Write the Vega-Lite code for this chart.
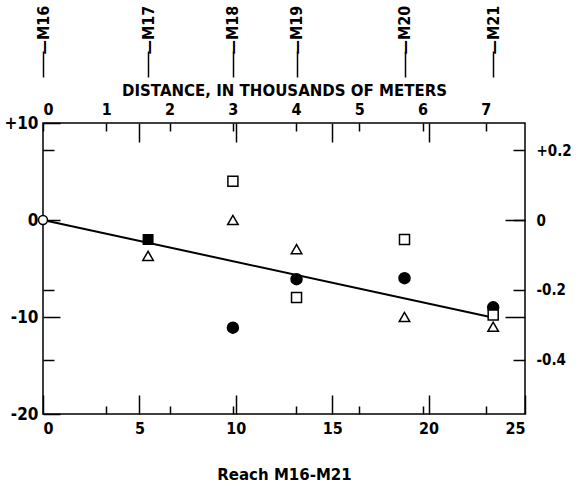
{
  "$schema": "https://vega.github.io/schema/vega-lite/v6.json",
  "width": 482,
  "height": 291,
  "autosize": {"type": "none"},
  "padding": {"left": 43, "top": 123, "right": 56, "bottom": 83},
  "background": "white",
  "config": {
    "view": {"stroke": "black", "strokeWidth": 1.5},
    "axis": {
      "grid": false,
      "domain": false,
      "tickColor": "black",
      "tickWidth": 1.5,
      "labelColor": "black",
      "labelFont": "DejaVu Sans Condensed",
      "labelFontWeight": "bold",
      "labelFontSize": 15,
      "titleColor": "black",
      "titleFont": "DejaVu Sans",
      "titleFontWeight": "bold",
      "titleFontSize": 15
    }
  },
  "datasets": {
    "points": [
      {"kft": 0, "val": 0, "sym": "circle-open"},
      {"kft": 5.45, "val": -2.0, "sym": "square-filled"},
      {"kft": 5.45, "val": -3.7, "sym": "triangle"},
      {"kft": 9.85, "val": 4.0, "sym": "square-open"},
      {"kft": 9.85, "val": 0.0, "sym": "triangle"},
      {"kft": 9.85, "val": -11.1, "sym": "circle-filled"},
      {"kft": 13.15, "val": -3.0, "sym": "triangle"},
      {"kft": 13.15, "val": -6.1, "sym": "circle-filled"},
      {"kft": 13.15, "val": -8.0, "sym": "square-open"},
      {"kft": 18.75, "val": -2.0, "sym": "square-open"},
      {"kft": 18.75, "val": -6.0, "sym": "circle-filled"},
      {"kft": 18.75, "val": -10.0, "sym": "triangle"},
      {"kft": 23.35, "val": -9.0, "sym": "circle-filled"},
      {"kft": 23.35, "val": -9.8, "sym": "square-open"},
      {"kft": 23.35, "val": -11.0, "sym": "triangle"}
    ],
    "fit": [
      {"kft": 0, "val": 0},
      {"kft": 23.2, "val": -10.0}
    ],
    "reaches": [
      {"reach": "M16", "kft": 0},
      {"reach": "M17", "kft": 5.45},
      {"reach": "M18", "kft": 9.85},
      {"reach": "M19", "kft": 13.15},
      {"reach": "M20", "kft": 18.75},
      {"reach": "M21", "kft": 23.35}
    ],
    "anchor": [{"km": 0, "r": 0, "kft": 0, "val": 0}]
  },
  "resolve": {"scale": {"x": "independent", "y": "independent"}},
  "layer": [
    {
      "layer": [
        {
          "data": {"name": "fit"},
          "mark": {"type": "line", "color": "black", "strokeWidth": 2},
          "encoding": {
            "x": {"field": "kft", "type": "quantitative"},
            "y": {"field": "val", "type": "quantitative"}
          }
        },
        {
          "data": {"name": "points"},
          "mark": {"type": "point", "filled": true, "stroke": "black", "strokeWidth": 1.5, "opacity": 1},
          "encoding": {
            "x": {"field": "kft", "type": "quantitative"},
            "y": {"field": "val", "type": "quantitative"},
            "shape": {"field": "sym", "type": "nominal", "legend": null,
              "scale": {"domain": ["circle-open", "square-filled", "square-open", "triangle", "circle-filled"],
                        "range": ["circle", "square", "square", "triangle-up", "circle"]}},
            "fill": {"field": "sym", "type": "nominal", "legend": null,
              "scale": {"domain": ["circle-open", "square-filled", "square-open", "triangle", "circle-filled"],
                        "range": ["white", "black", "white", "white", "black"]}},
            "size": {"field": "sym", "type": "nominal", "legend": null,
              "scale": {"domain": ["circle-open", "square-filled", "square-open", "triangle", "circle-filled"],
                        "range": [80, 121, 36, 165, 95]}}
          }
        }
      ],
      "encoding": {
        "x": {"field": "kft", "type": "quantitative",
          "scale": {"domain": [0, 25], "nice": false, "zero": false},
          "axis": {"orient": "bottom", "offset": -19, "values": [0, 5, 10, 15, 20, 25], "tickSize": 19, "labelPadding": 6,
                   "labelFontSize": 16, "title": "Reach M16-M21", "titlePadding": 31}},
        "y": {"field": "val", "type": "quantitative",
          "scale": {"domain": [-20, 10], "nice": false, "zero": false},
          "axis": {"orient": "left", "offset": -17, "values": [10, 0, -10, -20], "tickSize": 17, "labelPadding": 5,
                   "labelFontSize": 17,
                   "labelExpr": "datum.value > 0 ? '+' + datum.value : '' + datum.value", "title": null}}
      }
    },
    {
      "data": {"name": "anchor"},
      "mark": {"type": "point", "opacity": 0},
      "encoding": {
        "x": {"field": "km", "type": "quantitative",
          "scale": {"domain": [0, 7.62], "nice": false, "zero": false},
          "axis": {"orient": "top", "offset": -8, "values": [0, 1, 2, 3, 4, 5, 6, 7], "tickSize": 8, "labelPadding": 6,
                   "labelFontSize": 16,
                   "title": "DISTANCE, IN THOUSANDS OF METERS", "titleFontSize": 15, "titlePadding": 3}},
        "y": {"field": "r", "type": "quantitative",
          "scale": {"domain": [-0.5556, 0.2778], "nice": false, "zero": false},
          "axis": {"orient": "right", "offset": -12, "values": [0.2, 0, -0.2, -0.4], "tickSize": 12, "labelPadding": 11,
                   "labelExpr": "datum.value > 0 ? '+' + datum.value : '' + datum.value", "title": null}}
      }
    },
    {
      "data": {"name": "reaches"},
      "mark": {"type": "point", "opacity": 0},
      "encoding": {
        "x": {"field": "kft", "type": "quantitative",
          "scale": {"domain": [0, 25], "nice": false, "zero": false},
          "axis": {"orient": "top", "offset": 46, "values": [0, 5.45, 9.85, 13.15, 18.75, 23.35],
                   "tickSize": 26, "labelPadding": -3, "labelAngle": 270, "labelAlign": "left", "labelBaseline": "middle",
                   "labelFontSize": 16,
                   "labelExpr": "datum.value < 1 ? '—M16' : datum.value < 7 ? '—M17' : datum.value < 11 ? '—M18' : datum.value < 15 ? '—M19' : datum.value < 20 ? '—M20' : '—M21'",
                   "title": null}},
        "y": {"datum": 0, "type": "quantitative", "axis": null}
      }
    },
    {
      "data": {"name": "anchor"},
      "mark": {"type": "point", "opacity": 0},
      "encoding": {
        "x": {"field": "kft", "type": "quantitative",
          "scale": {"domain": [0, 25], "nice": false, "zero": false},
          "axis": {"orient": "bottom", "offset": -8, "labels": false, "values": [3.281, 6.562, 9.843, 13.123, 16.404, 19.685, 22.966],
                   "tickSize": 8, "title": null}},
        "y": {"field": "val", "type": "quantitative",
          "scale": {"domain": [-20, 10], "nice": false, "zero": false},
          "axis": {"orient": "left", "offset": -11, "labels": false, "values": [7.2, -7.2, -14.4], "tickSize": 11, "title": null}}
      }
    },
    {
      "data": {"name": "anchor"},
      "mark": {"type": "point", "opacity": 0},
      "encoding": {
        "x": {"field": "kft", "type": "quantitative",
          "scale": {"domain": [0, 25], "nice": false, "zero": false},
          "axis": {"orient": "top", "offset": -19, "labels": false, "values": [5, 10, 15, 20],
                   "tickSize": 19, "title": null}},
        "y": {"field": "val", "type": "quantitative",
          "scale": {"domain": [-20, 10], "nice": false, "zero": false},
          "axis": {"orient": "right", "offset": -20, "labels": false, "values": [0, -10], "tickSize": 20, "title": null}}
      }
    }
  ]
}
